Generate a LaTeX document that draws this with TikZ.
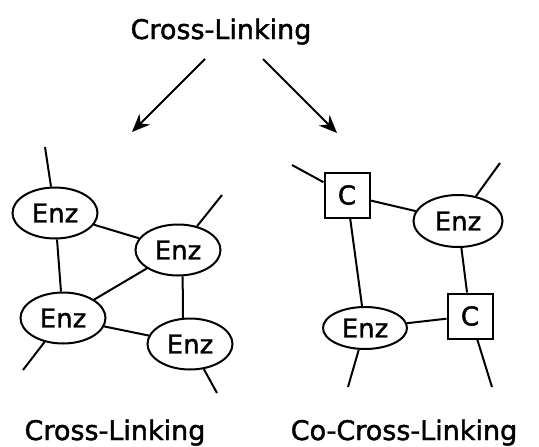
\documentclass[tikz,border=0pt]{standalone}
\usepackage{fontspec}
\setmainfont{DejaVu Sans}[BoldFont=DejaVu Sans,BoldFeatures={FakeBold=1.6}]
\usetikzlibrary{shapes.geometric,arrows.meta}

\begin{document}
\begin{tikzpicture}[x=1pt,y=-1pt,line width=2pt,
    enz/.style={ellipse,draw,inner sep=0pt,minimum width=85pt,minimum height=51pt,font=\fontsize{26}{28}\selectfont\bfseries},
    cbox/.style={rectangle,draw,inner sep=0pt,minimum size=45pt,font=\fontsize{26}{28}\selectfont\bfseries},
    lbl/.style={anchor=base,font=\fontsize{27}{30}\selectfont\bfseries},
    link/.style={-{Stealth[length=18pt,width=15pt]}}]
    \useasboundingbox (0,0) rectangle (539,447);

    % Title with the two arrows
    \node[lbl] (title) at (221,39) {Cross-Linking};
    \coordinate (lfrom) at (205,59);
    \coordinate (lto) at (132,132);
    \coordinate (rfrom) at (263,59);
    \coordinate (rto) at (337,133);
    \draw[link] (lfrom) -- (lto);
    \draw[link] (rfrom) -- (rto);

    % Left network: Enz only
    \begin{scope}
        \node[enz] (e1) at (55,213) {Enz};
        \node[enz] (e2) at (178,250) {Enz};
        \node[enz] (e3) at (63,318) {Enz};
        \node[enz] (e4) at (190,344) {Enz};
        \coordinate (e1end) at (45,147);
        \coordinate (e2end) at (222,195);
        \coordinate (e3end) at (23,370);
        \coordinate (e4end) at (217,393);
        \draw (e1) -- (e2);
        \draw (e1) -- (e3);
        \draw (e2) -- (e3);
        \draw (e2.-80) -- (e4.105);
        \draw (e3) -- (e4);
        \draw (e1) -- (e1end); % free ends
        \draw (e2) -- (e2end);
        \draw (e3) -- (e3end);
        \draw (e4) -- (e4end);
        \node[lbl] (lname) at (115,440) {Cross-Linking};
    \end{scope}

    % Right network: C boxes between the Enz
    \begin{scope}
        \node[cbox] (c1) at (347,195) {C};
        \node[enz,minimum width=89pt,minimum height=52pt] (r1) at (458,221) {Enz};
        \node[enz,minimum width=84pt,minimum height=42pt] (r2) at (365,328) {Enz};
        \node[cbox] (c2) at (470,316) {C};
        \coordinate (c1end) at (292,165);
        \coordinate (r1end) at (500,163);
        \coordinate (r2end) at (348,387);
        \coordinate (c2end) at (492,387);
        \draw (c1) -- (r1);
        \draw (c1) -- (r2);
        \draw (r1) -- (c2);
        \draw (r2) -- (c2);
        \draw (c1) -- (c1end); % free ends
        \draw (r1) -- (r1end);
        \draw (r2) -- (r2end);
        \draw (c2) -- (c2end);
        \node[lbl] (rname) at (404,440) {Co-Cross-Linking};
    \end{scope}
\end{tikzpicture}
\end{document}
